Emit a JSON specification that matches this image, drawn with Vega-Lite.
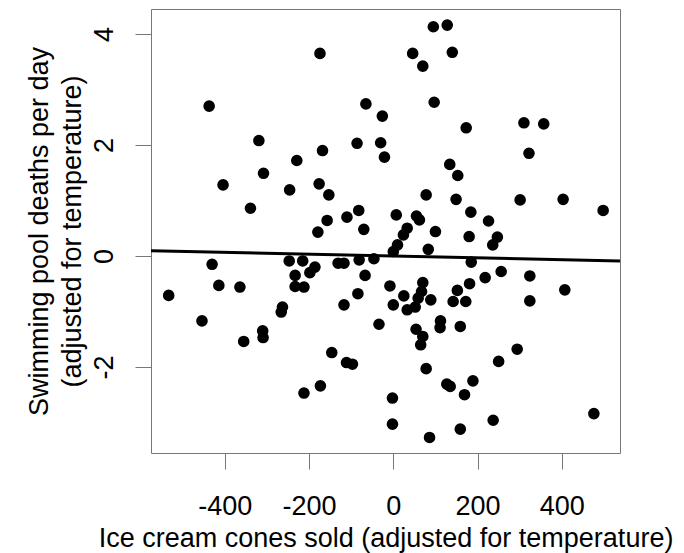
{
  "$schema": "https://vega.github.io/schema/vega-lite/v6.json",
  "autosize": {"type": "none"},
  "padding": {"left": 151, "top": 9, "right": 64, "bottom": 100},
  "width": 469,
  "height": 444,
  "background": "white",
  "config": {
    "view": {"stroke": "#777", "strokeWidth": 1},
    "axis": {
      "grid": false,
      "domain": false,
      "tickColor": "#777",
      "tickSize": 16,
      "tickWidth": 1,
      "labelFont": "Liberation Sans",
      "labelFontSize": 27,
      "labelColor": "black",
      "titleFont": "Liberation Sans",
      "titleFontSize": 27,
      "titleFontWeight": "normal",
      "titleColor": "black"
    }
  },
  "datasets": {
    "points": [
      {"cones": -174, "deaths": 3.65}, {"cones": 46, "deaths": 3.65}, {"cones": -437, "deaths": 2.70},
      {"cones": -65, "deaths": 2.74}, {"cones": -26, "deaths": 2.52}, {"cones": -319, "deaths": 2.08},
      {"cones": -168, "deaths": 1.90}, {"cones": -86, "deaths": 2.03}, {"cones": -30, "deaths": 2.04},
      {"cones": -21, "deaths": 1.78}, {"cones": -229, "deaths": 1.72}, {"cones": -308, "deaths": 1.49},
      {"cones": -404, "deaths": 1.28}, {"cones": -246, "deaths": 1.19}, {"cones": -176, "deaths": 1.30},
      {"cones": -153, "deaths": 1.10}, {"cones": -339, "deaths": 0.86}, {"cones": -157, "deaths": 0.64},
      {"cones": -110, "deaths": 0.70}, {"cones": -82, "deaths": 0.82}, {"cones": 7, "deaths": 0.74},
      {"cones": -179, "deaths": 0.43}, {"cones": -70, "deaths": 0.48}, {"cones": 95, "deaths": 4.13},
      {"cones": 128, "deaths": 4.16}, {"cones": 140, "deaths": 3.67}, {"cones": 70, "deaths": 3.42},
      {"cones": 97, "deaths": 2.77}, {"cones": 173, "deaths": 2.31}, {"cones": 310, "deaths": 2.40},
      {"cones": 357, "deaths": 2.38}, {"cones": 322, "deaths": 1.85}, {"cones": 134, "deaths": 1.65},
      {"cones": 153, "deaths": 1.45}, {"cones": 78, "deaths": 1.10}, {"cones": 149, "deaths": 1.02},
      {"cones": 301, "deaths": 1.01}, {"cones": 403, "deaths": 1.02}, {"cones": 498, "deaths": 0.82},
      {"cones": 184, "deaths": 0.79}, {"cones": 226, "deaths": 0.63}, {"cones": 55, "deaths": 0.72},
      {"cones": 62, "deaths": 0.65}, {"cones": 33, "deaths": 0.50}, {"cones": 24, "deaths": 0.38},
      {"cones": 100, "deaths": 0.44}, {"cones": 180, "deaths": 0.35}, {"cones": 247, "deaths": 0.34},
      {"cones": 236, "deaths": 0.20}, {"cones": 83, "deaths": 0.12}, {"cones": 10, "deaths": 0.20},
      {"cones": 0, "deaths": 0.08}, {"cones": 185, "deaths": -0.11}, {"cones": 256, "deaths": -0.28},
      {"cones": 218, "deaths": -0.39}, {"cones": 324, "deaths": -0.36}, {"cones": 407, "deaths": -0.61},
      {"cones": 324, "deaths": -0.81}, {"cones": 181, "deaths": -0.50}, {"cones": 152, "deaths": -0.62},
      {"cones": 142, "deaths": -0.82}, {"cones": 172, "deaths": -0.82}, {"cones": 70, "deaths": -0.48},
      {"cones": 67, "deaths": -0.64}, {"cones": 25, "deaths": -0.72}, {"cones": 59, "deaths": -0.76},
      {"cones": 89, "deaths": -0.79}, {"cones": 33, "deaths": -0.97}, {"cones": 52, "deaths": -0.92},
      {"cones": 112, "deaths": -1.17}, {"cones": 111, "deaths": -1.29}, {"cones": 159, "deaths": -1.27},
      {"cones": 54, "deaths": -1.32}, {"cones": 70, "deaths": -1.45}, {"cones": 65, "deaths": -1.60},
      {"cones": 294, "deaths": -1.68}, {"cones": 250, "deaths": -1.90}, {"cones": 78, "deaths": -2.03},
      {"cones": 127, "deaths": -2.31}, {"cones": 135, "deaths": -2.35}, {"cones": 189, "deaths": -2.25},
      {"cones": 169, "deaths": -2.50}, {"cones": 476, "deaths": -2.84}, {"cones": 237, "deaths": -2.96},
      {"cones": 159, "deaths": -3.12}, {"cones": 86, "deaths": -3.27}, {"cones": -430, "deaths": -0.15},
      {"cones": -533, "deaths": -0.71}, {"cones": -414, "deaths": -0.53}, {"cones": -364, "deaths": -0.56},
      {"cones": -454, "deaths": -1.17}, {"cones": -355, "deaths": -1.54}, {"cones": -310, "deaths": -1.35},
      {"cones": -309, "deaths": -1.47}, {"cones": -263, "deaths": -0.92}, {"cones": -266, "deaths": -1.01},
      {"cones": -247, "deaths": -0.09}, {"cones": -215, "deaths": -0.09}, {"cones": -233, "deaths": -0.35},
      {"cones": -233, "deaths": -0.55}, {"cones": -212, "deaths": -0.56}, {"cones": -198, "deaths": -0.30},
      {"cones": -186, "deaths": -0.20}, {"cones": -131, "deaths": -0.13}, {"cones": -117, "deaths": -0.13},
      {"cones": -81, "deaths": -0.07}, {"cones": -46, "deaths": -0.05}, {"cones": -67, "deaths": -0.35},
      {"cones": -8, "deaths": -0.54}, {"cones": 0, "deaths": -0.88}, {"cones": -117, "deaths": -0.88},
      {"cones": -84, "deaths": -0.68}, {"cones": -34, "deaths": -1.23}, {"cones": -146, "deaths": -1.74},
      {"cones": -111, "deaths": -1.92}, {"cones": -97, "deaths": -1.95}, {"cones": -173, "deaths": -2.34},
      {"cones": -212, "deaths": -2.47}, {"cones": -2, "deaths": -2.56}, {"cones": -2, "deaths": -3.03}
    ],
    "fit": [
      {"cones": -575, "deaths": 0.095},
      {"cones": 538, "deaths": -0.09}
    ]
  },
  "layer": [
    {
      "data": {"name": "points"},
      "mark": {"type": "circle", "color": "black", "opacity": 1, "size": 135},
      "encoding": {
        "x": {
          "field": "cones", "type": "quantitative",
          "scale": {"domain": [-575, 538], "nice": false, "zero": false},
          "axis": {
            "values": [-400, -200, 0, 200, 400],
            "labelExpr": "'' + datum.value",
            "labelAngle": 0,
            "labelBaseline": "alphabetic",
            "labelPadding": 45,
            "labelFlush": false,
            "labelOverlap": false,
            "title": "Ice cream cones sold (adjusted for temperature)",
            "titleBaseline": "alphabetic",
            "titleY": 93
          }
        },
        "y": {
          "field": "deaths", "type": "quantitative",
          "scale": {"domain": [-3.55, 4.45], "nice": false, "zero": false},
          "axis": {
            "values": [-2, 0, 2, 4],
            "labelExpr": "'' + datum.value",
            "labelAngle": -90,
            "labelAlign": "center",
            "labelBaseline": "alphabetic",
            "labelPadding": 23,
            "labelFlush": false,
            "labelOverlap": false,
            "title": ["Swimming pool deaths per day", "(adjusted for temperature)"],
            "titleAngle": -90,
            "titleAlign": "center",
            "titleBaseline": "alphabetic",
            "titleLineHeight": 33,
            "titleX": -104,
            "titleY": 222
          }
        }
      }
    },
    {
      "data": {"name": "fit"},
      "mark": {"type": "line", "color": "black", "strokeWidth": 3},
      "encoding": {
        "x": {"field": "cones", "type": "quantitative"},
        "y": {"field": "deaths", "type": "quantitative"}
      }
    }
  ]
}
